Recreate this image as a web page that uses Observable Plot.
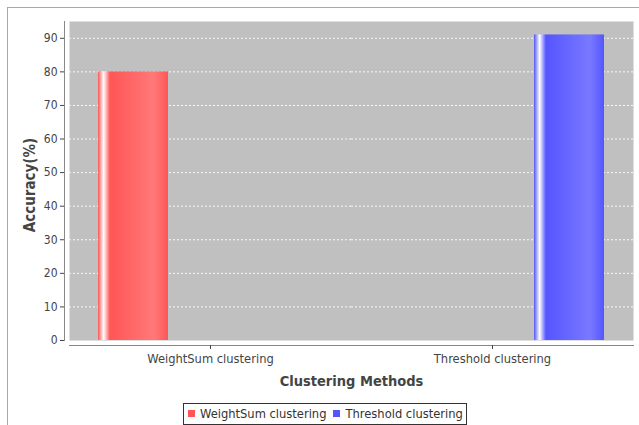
<!DOCTYPE html>
<html>
<head>
<meta charset="utf-8">
<script src="https://cdn.jsdelivr.net/npm/d3@7"></script>
<script src="https://cdn.jsdelivr.net/npm/@observablehq/plot@0.6"></script>
<style>
  body { margin: 0; background: #fff; }
  #wrap { position: relative; width: 639px; height: 425px; overflow: hidden; background: #fff; }
  #border { position: absolute; left: 7px; top: 7px; right: -2px; bottom: -2px; border-left: 1px solid #a8a8a8; border-top: 1px solid #a8a8a8; pointer-events: none; }
  #chart { position: absolute; left: 0; top: 0; }
  #legend { position: absolute; left: 183px; top: 403px; border: 1px solid #333; background: #fff; padding: 2px 3px 3px 4px; }
  .lg-swatches, .lg-swatches-wrap { min-height: 0 !important; margin: 0 !important; font-family: "DejaVu Sans Condensed", "DejaVu Sans", sans-serif !important; font-size: 12.8px !important; color: #333 !important; display: flex !important; align-items: center; }
  .lg-swatch { margin-right: 7px !important; }
  .lg-swatch:last-child { margin-right: 0 !important; }
  .lg-swatch > svg { margin-right: 5px !important; }
</style>
</head>
<body>
<div id="wrap">
  <div id="chart"></div>
  <div id="legend"></div>
  <div id="border"></div>
</div>
<script>
// categories (x axis)
const methods = ["WeightSum clustering", "Threshold clustering"];
// series (legend)
const series = ["WeightSum clustering", "Threshold clustering"];
// accuracy (%) of each series, in its own category
const accuracy = [80, 91];
// y tick labels
const yTicks = [0, 10, 20, 30, 40, 50, 60, 70, 80, 90];
// series colours (base, brighter)
const colors = ["#ff5555", "#5555ff"];
const brighter = ["#ff7979", "#7979ff"];

const data = methods.map((m, i) => ({method: m, series: series[i], accuracy: accuracy[i]}));

const font = "DejaVu Sans Condensed, DejaVu Sans, sans-serif";

const svg = Plot.plot({
  width: 639,
  height: 398,
  marginTop: 21,
  marginBottom: 58,
  marginLeft: 68,
  marginRight: 6,
  style: {background: "transparent", fontFamily: font},
  fx: {domain: methods, padding: 0, axis: null},
  x: {domain: series, paddingInner: 0.545, paddingOuter: 0.184, axis: null},
  y: {domain: [0, 95], axis: null},
  marks: [
    Plot.frame({fill: "#c0c0c0", stroke: "none", facet: "super"}),
    Plot.ruleY(yTicks.filter(t => t > 0), {stroke: "#ffffff", strokeOpacity: 0.9, strokeDasharray: "2,2"}),
    ...series.map((s, i) => Plot.barY(data.filter(d => d.series === s), {
      fx: "method", x: "series", y: "accuracy", fill: `url(#grad${i})`
    })),
    Plot.frame({anchor: "bottom", dy: 5, stroke: "#888", facet: "super"}),
    Plot.frame({anchor: "left", dx: -5, stroke: "#888", facet: "super"}),
    Plot.axisY({ticks: yTicks, tickSize: 4, dx: -5, tickPadding: 3, label: null, fontSize: 12, color: "#444"}),
    Plot.axisFx({anchor: "bottom", tickSize: 4, dy: 5, tickPadding: 4, label: null, fontSize: 12.8, color: "#444"}),
    Plot.text(["Accuracy(%)"], {text: d => d, frameAnchor: "left", textAnchor: "middle", rotate: -90, dx: -39, dy: 4,
      facet: "super", fontWeight: "bold", fontSize: 15, fill: "#444"}),
    Plot.text(["Clustering Methods"], {text: d => d, frameAnchor: "bottom", dy: 45, facet: "super",
      fontWeight: "bold", fontSize: 14.5, fill: "#444"})
  ]
});

// gradient fills (JFreeChart-style gradient bar painter)
const defs = d3.select(svg).insert("defs", ":first-child");
series.forEach((s, i) => {
  const g = defs.append("linearGradient").attr("id", `grad${i}`)
    .attr("x1", 0).attr("x2", 1).attr("y1", 0).attr("y2", 0);
  [[0, colors[i]], [0.08, "#ffffff"], [0.17, colors[i]], [0.8, brighter[i]], [1, colors[i]]]
    .forEach(([o, c]) => g.append("stop").attr("offset", o).attr("stop-color", c));
});

document.getElementById("chart").appendChild(svg);

const legend = Plot.legend({
  color: {domain: series, range: colors},
  swatchSize: 7,
  className: "lg"
});
document.getElementById("legend").appendChild(legend);
</script>
</body>
</html>
